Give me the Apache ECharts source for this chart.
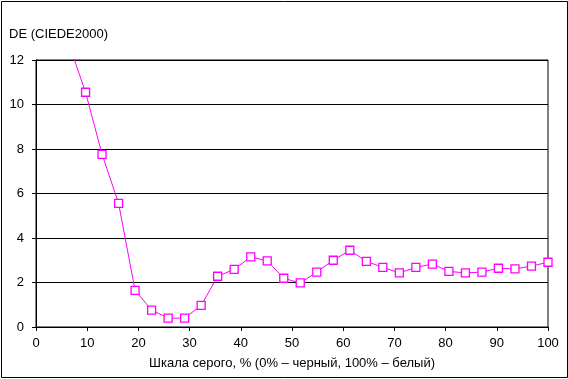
<!DOCTYPE html>
<html>
<head>
<meta charset="utf-8">
<script src="https://cdn.jsdelivr.net/npm/echarts@6/dist/echarts.min.js"></script>
<style>
html,body{margin:0;padding:0;background:#fff;}
#c{width:568px;height:379px;}
</style>
</head>
<body>
<div id="c"></div>
<script>
var grayLevels = [6.45, 9.68, 12.90, 16.13, 19.35, 22.58, 25.81, 29.03, 32.26, 35.48, 38.71, 41.94, 45.16, 48.39, 51.61, 54.84, 58.06, 61.29, 64.52, 67.74, 70.97, 74.19, 77.42, 80.65, 83.87, 87.10, 90.32, 93.55, 96.77, 100];
var deValues = [12.7, 10.55, 7.76, 5.56, 1.65, 0.76, 0.40, 0.40, 0.97, 2.28, 2.59, 3.15, 2.97, 2.19, 1.98, 2.47, 3.00, 3.45, 2.95, 2.68, 2.43, 2.68, 2.83, 2.50, 2.43, 2.47, 2.64, 2.61, 2.74, 2.91];
var yTitle = 'DE (CIEDE2000)';
var xTitle = 'Шкала серого, % (0% – черный, 100% – белый)';

var seriesData = grayLevels.map(function (x, i) { return [x, deValues[i]]; });
var font = 'Liberation Sans, Arial, sans-serif';

var chart = echarts.init(document.getElementById('c'), null, {renderer: 'canvas'});
chart.setOption({
  animation: false,
  backgroundColor: '#fff',
  title: {
    text: yTitle,
    left: 4,
    top: 23,
    textStyle: {fontFamily: font, fontSize: 13, fontWeight: 'normal', color: '#000'}
  },
  graphic: [{
    type: 'rect',
    shape: {x: 1.5, y: 1.5, width: 566, height: 376},
    style: {fill: 'none', stroke: '#000', lineWidth: 1},
    silent: true
  }],
  grid: {
    left: 36, right: 20, top: 60, bottom: 52,
    show: true, borderColor: '#000', borderWidth: 1, backgroundColor: 'transparent'
  },
  xAxis: {
    type: 'value', min: 0, max: 100, interval: 10,
    name: xTitle, nameLocation: 'middle', nameGap: 30,
    nameTextStyle: {fontFamily: font, fontSize: 13, color: '#000'},
    axisLine: {show: true, lineStyle: {color: '#000', width: 1}},
    axisTick: {show: true, length: 4, lineStyle: {color: '#000'}},
    axisLabel: {fontFamily: font, fontSize: 13, color: '#000', margin: 10},
    splitLine: {show: false}
  },
  yAxis: {
    type: 'value', min: 0, max: 12, interval: 2,
    axisLine: {show: true, lineStyle: {color: '#000', width: 1}},
    axisTick: {show: true, length: 4, lineStyle: {color: '#000'}},
    axisLabel: {fontFamily: font, fontSize: 13, color: '#000', margin: 12},
    splitLine: {show: true, lineStyle: {color: '#000', width: 1}}
  },
  series: [{
    type: 'line',
    data: seriesData,
    clip: true,
    symbol: 'rect',
    symbolSize: 8,
    showAllSymbol: true,
    lineStyle: {color: '#FF00FF', width: 1},
    itemStyle: {color: '#fff', borderColor: '#FF00FF', borderWidth: 1.3}
  }]
});
</script>
</body>
</html>
